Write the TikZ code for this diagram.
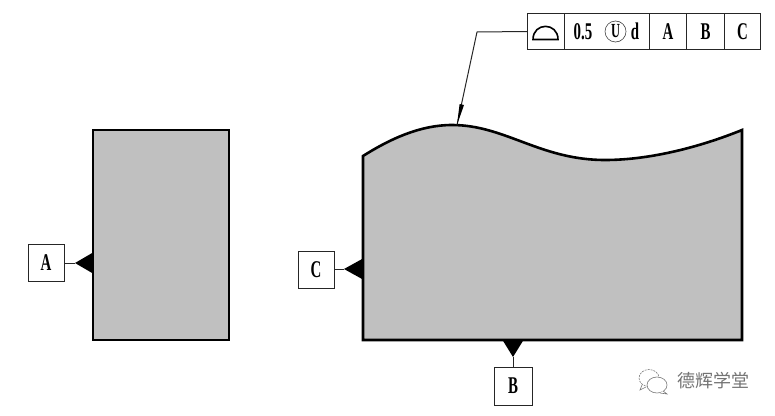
\documentclass[tikz,border=0pt]{standalone}
\usepackage{fontspec}
\usepackage{graphicx}
\setmainfont{Liberation Serif}
\newfontfamily\cjkfont{Noto Sans CJK SC}
\definecolor{fillgray}{RGB}{192,192,192}
\definecolor{markgray}{RGB}{120,120,120}
\newcommand{\narrowtxt}[1]{\scalebox{0.62}[1.0]{\fontsize{24}{24}\selectfont\bfseries #1}}
\tikzset{
  outline/.style={draw=black,line width=2.6pt,fill=fillgray,line join=miter},
  thin/.style={draw=black!85,line width=1pt},
  frame/.style={draw=black!85,line width=1pt,fill=white,inner sep=0pt,minimum height=36pt,anchor=north west},
  datum/.style={draw=black!85,line width=1pt,fill=white,inner sep=0pt,minimum width=36pt,minimum height=37pt},
  wedge/.style={fill=black,draw=none},
  wm/.style={draw=markgray,line width=.6pt,fill=white}
}
\begin{document}
\begin{tikzpicture}[x=1pt,y=-1pt]
\useasboundingbox (0,0) rectangle (775,415);
% parts
\path[outline] (93,130) -- (229,130) -- (229,340) -- (93,340) -- cycle;
\path[outline] (363,156) .. controls (390,139) and (420,125) .. (452,125)
  .. controls (505,125) and (540,160) .. (605,160)
  .. controls (650,160) and (700,147) .. (742,130)
  -- (742,340) -- (363,340) -- cycle;
% feature control frame
\node[frame,minimum width=37pt] (sym) at (527,13) {};
\node[frame,minimum width=85pt] (tol) at (564,13) {};
\node[frame,minimum width=37pt] (fa) at (649,13) {\narrowtxt{A}};
\node[frame,minimum width=38pt] (fb) at (686,13) {\narrowtxt{B}};
\node[frame,minimum width=36pt] (fc) at (724,13) {\narrowtxt{C}};
\draw[black,line width=1.6pt,line join=miter] (533,39.5) -- (558,39.5) .. controls (558,22) and (533,22) .. (533,39.5) -- cycle;
\node[inner sep=0pt] (v05) at (583,31.5) {\narrowtxt{0.5}};
\node[circle,draw=black!75,line width=.6pt,minimum size=21pt,inner sep=0pt] (mod) at (615.5,31.5) {\scalebox{0.62}[1.0]{\fontsize{20}{20}\selectfont\bfseries U}};
\node[inner sep=0pt] (vd) at (635,31) {\narrowtxt{d}};
% leader
\coordinate (bend) at (477,32);
\coordinate (hit) at (457,125);
\draw[thin] (sym.west) -- (bend) -- (hit);
\fill[black] (457,125) -- (459.6,104) -- (464,105) -- cycle;
% datums
\node[datum] (A) at (46,263) {\narrowtxt{A}};
\coordinate (Atip) at (75,263);
\draw[thin] (A.east) -- (Atip);
\fill[wedge] (Atip) -- (93,252.5) -- (93,273.5) -- cycle;
\node[datum] (C) at (316,270) {\narrowtxt{C}};
\coordinate (Ctip) at (344,269);
\draw[thin] (C.east |- Ctip) -- (Ctip);
\fill[wedge] (Ctip) -- (363,258.5) -- (363,279.5) -- cycle;
\node[datum,minimum width=38pt,minimum height=38pt] (B) at (513,386) {\narrowtxt{B}};
\coordinate (Btip) at (513,357);
\draw[thin] (B.north) -- (Btip);
\fill[wedge] (Btip) -- (502.5,340) -- (523.5,340) -- cycle;
% watermark
\draw[wm,dashed,dash pattern=on 2pt off 1pt] (649,378) ellipse [x radius=10,y radius=8.5];
\draw[wm] (642,385) -- (640,390) -- (646,387);
\draw[wm] (657,385) ellipse [x radius=10,y radius=8];
\draw[wm] (663,391) -- (667,394) -- (660,393);
\node[inner sep=0pt,text=black!55] (wmtext) at (713,381) {\cjkfont\fontsize{18}{18}\selectfont 德辉学堂};
\end{tikzpicture}
\end{document}
